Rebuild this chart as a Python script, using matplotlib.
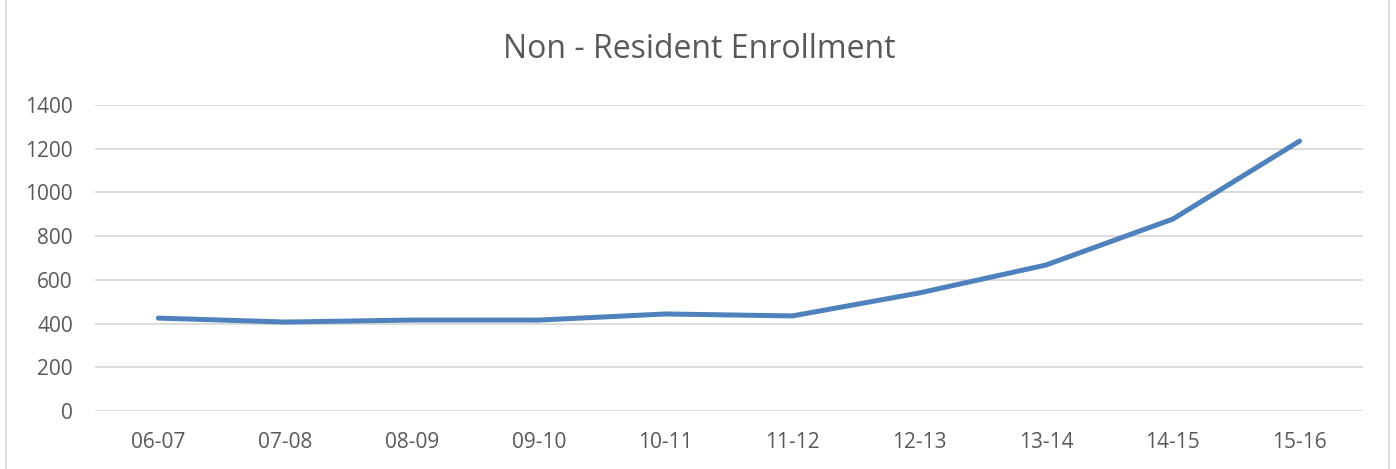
import matplotlib
matplotlib.use("Agg")
import matplotlib.pyplot as plt
from matplotlib.patches import Rectangle

categories = ["06-07", "07-08", "08-09", "09-10", "10-11", "11-12", "12-13", "13-14", "14-15", "15-16"]
enrollment = [425, 407, 416, 416, 444, 435, 540, 668, 878, 1235]
yticks = [0, 200, 400, 600, 800, 1000, 1200, 1400]

plt.rcParams['font.family'] = ['Open Sans', 'DejaVu Sans']

W, H = 1396, 469
fig = plt.figure(figsize=(W / 100, H / 100), dpi=100)
ax = fig.add_axes([95 / W, 1 - 411 / H, (1363 - 95) / W, (411 - 105) / H])

x = list(range(len(categories)))
ax.plot(x, enrollment, color="#4f81bd", linewidth=3.6, solid_capstyle="round", solid_joinstyle="round", zorder=3)

ax.set_xlim(-0.5, len(categories) - 0.5)
ax.set_ylim(0, 1400)
ax.set_yticks(yticks)
ax.set_yticklabels([str(v) for v in yticks])
ax.set_xticks(x)
ax.set_xticklabels(categories)
ax.grid(axis="y", color="#d9d9d9", linewidth=1.3, zorder=0)
for s in ax.spines.values():
    s.set_visible(False)
ax.tick_params(axis="both", length=0, labelsize=15, labelcolor="#595959")
ax.tick_params(axis="y", pad=16)
ax.tick_params(axis="x", pad=15)

fig.text(699 / W, 1 - 50 / H, "Non - Resident Enrollment", ha="center", va="center", fontsize=23, color="#595959")

fig.patches.append(Rectangle((6 / W, -0.05), (1389 - 6) / W, 1.1, transform=fig.transFigure,
                             fill=False, edgecolor="#d9d9d9", linewidth=1.3))

fig.savefig("out.png", dpi=100)
